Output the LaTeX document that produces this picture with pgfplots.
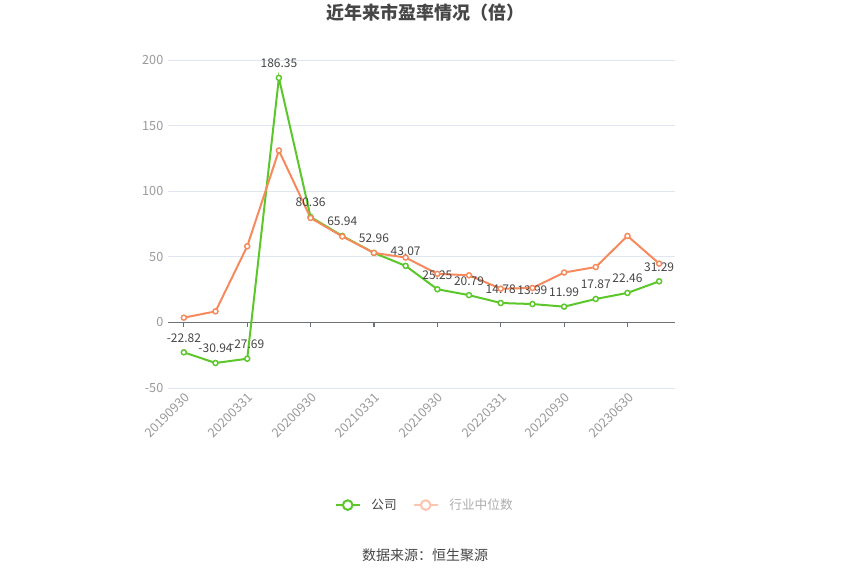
\documentclass[border=0pt]{standalone}
\usepackage{pgfplots}
\pgfplotsset{compat=1.18}
\usepackage{fontspec}
\setmainfont{Noto Sans CJK SC}
\definecolor{cgreen}{HTML}{5CC72B}
\definecolor{corange}{HTML}{F78A5C}
\definecolor{clorange}{HTML}{FCC4AE}
\definecolor{ctick}{HTML}{999999}
\definecolor{cgrid}{HTML}{E0E6F1}
\definecolor{caxis}{HTML}{6E7079}
\definecolor{ctext}{HTML}{464646}
\begin{document}
\begin{tikzpicture}
\path[use as bounding box] (0,0) rectangle (637.5pt,430.5pt);
\node[font=\bfseries\fontsize{13.5}{15}\selectfont, text=ctext] at (318.75pt,420.75pt) {近年来市盈率情况（倍）};
\node[font=\fontsize{10.5}{12}\selectfont, text=ctext] at (318.75pt,14.25pt) {数据来源：恒生聚源};
\begin{axis}[
  at={(126pt,139.5pt)}, anchor=south west,
  scale only axis, width=380.25pt, height=246pt,
  xmin=-0.5, xmax=15.5, ymin=-50, ymax=200,
  ytick={-50,0,50,100,150,200},
  xtick={0,2,4,6,8,10,12,14},
  xticklabels={20190930,20200331,20200930,20210331,20210930,20220331,20220930,20230630},
  xticklabel style={rotate=45, anchor=north east, font=\fontsize{9.5}{10}\selectfont, text=ctick, inner sep=2pt},
  yticklabel style={font=\fontsize{9.5}{10}\selectfont, text=ctick},
  /pgf/number format/assume math mode=true,
  axis line style={draw=none},
  tick style={draw=none},
  ymajorgrids, grid style={cgrid, line width=0.6pt},
  clip=false,
  legend style={at={(0.507,-0.357)}, anchor=center, draw=none, legend columns=2,
    font=\fontsize{9.5}{10}\selectfont, column sep=6pt,
    /tikz/every even column/.append style={column sep=10pt}},
  legend image code/.code={%
    \draw[line width=1.5pt] (0pt,0pt) -- (18pt,0pt);
    \draw[line width=1.5pt, fill=white] (9pt,0pt) circle (3.6pt);},
]
\draw[caxis, line width=0.8pt] (axis cs:-0.5,0) -- (axis cs:15.5,0);
\pgfplotsinvokeforeach{0,2,4,6,8,10,12,14}{\draw[caxis, line width=0.8pt] (axis cs:#1,0) -- ++(0pt,-3.75pt);}
\addplot[cgreen, line width=1.5pt, mark=*, mark size=1.9pt,
  mark options={fill=white, draw=cgreen, line width=1.1pt},
  point meta=explicit symbolic,
  nodes near coords, every node near coord/.style={font=\fontsize{9}{10}\selectfont, text=ctext, anchor=south, yshift=3.5pt}]
coordinates {
(0,-22.82) [-22.82]
(1,-30.94) [-30.94]
(2,-27.69) [-27.69]
(3,186.35) [186.35]
(4,80.36) [80.36]
(5,65.94) [65.94]
(6,52.96) [52.96]
(7,43.07) [43.07]
(8,25.25) [25.25]
(9,20.79) [20.79]
(10,14.78) [14.78]
(11,13.99) [13.99]
(12,11.99) [11.99]
(13,17.87) [17.87]
(14,22.46) [22.46]
(15,31.29) [31.29]
};
\addlegendentry{\textcolor{ctext}{公司}}
\addplot[corange, line width=1.5pt, mark=*, mark size=1.9pt,
  mark options={fill=white, draw=corange, line width=1.1pt},
  legend image post style={draw=clorange}]
coordinates {
(0,3.6) (1,8.4) (2,58) (3,131) (4,79.6) (5,65.5) (6,53) (7,49.4)
(8,37) (9,35.9) (10,25.7) (11,26.2) (12,38) (13,42.2) (14,65.9) (15,44.8)
};
\addlegendentry{\textcolor{ctick!80}{行业中位数}}
\end{axis}
\end{tikzpicture}
\end{document}
